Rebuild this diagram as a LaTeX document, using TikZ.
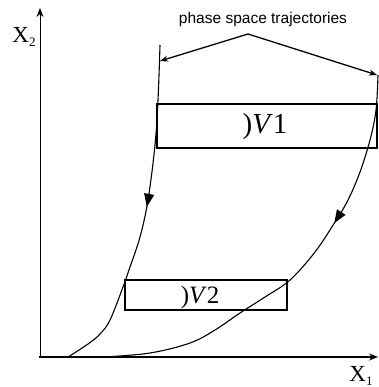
\documentclass[tikz,border=0pt]{standalone}
\usepackage{fontspec}
\setmainfont{Liberation Serif}
\newfontfamily\arial{Liberation Sans}
\usetikzlibrary{arrows.meta,decorations.markings}
\begin{document}
\begin{tikzpicture}[x=1pt,y=-1pt,
  axis/.style={-{Stealth[length=9pt,width=7pt]}},
  box/.style={draw,line width=1.3pt,inner sep=0pt,anchor=center},
  traj/.style={line width=1.1pt},
  pointer/.style={line width=1.3pt,-{Stealth[length=8pt,width=6pt]}},
  midarrow/.style={postaction={decorate,decoration={markings,
     mark=at position #1 with {\arrow{Triangle[length=13pt,width=10pt]}}}}}
]
\useasboundingbox (0,0) rectangle (378,387);
% axes
\coordinate (ytop) at (40,8);
\coordinate (xend) at (378,357);
\draw[axis,line width=0.9pt] (40,358) -- (ytop);
\draw[axis,line width=2pt] (39,357) -- (xend);
\node (x2) at (24,37) {\fontsize{23}{23}\selectfont X\raisebox{-0.35ex}{\fontsize{13}{13}\selectfont 2}};
\node (x1) at (361,376) {\fontsize{23}{23}\selectfont X\raisebox{-0.35ex}{\fontsize{13}{13}\selectfont 1}};
% boxes
\node[box,minimum width=220pt,minimum height=44pt] (v1) at (267,126) {};
\node (v1l) at (265,127) {\fontsize{29}{29}\selectfont )\textit{V}1};
\node[box,minimum width=162pt,minimum height=30pt] (v2) at (206,295) {};
\node (v2l) at (200,297) {\fontsize{25}{25}\selectfont )\textit{V}2};
% trajectories
\draw[traj,midarrow=0.48] plot[smooth,tension=0.6] coordinates
  {(160,45) (158,100) (155,145) (148,200) (140,237) (130,267) (123,287) (110,320) (100,334) (88,344) (68,357)};
\draw[traj,midarrow=0.36] plot[smooth,tension=0.6] coordinates
  {(378,75) (376,110) (370,140) (360,172) (348,200) (335,222) (315,252) (290,280) (265,297) (240,313) (215,330) (190,343) (150,353) (104,357)};
% label
\node (lbl) at (263,19) {\arial\fontsize{15.5}{15.5}\selectfont phase space trajectories};
\coordinate (apex) at (248,34);
\draw[pointer] (apex) -- (160,61);
\draw[pointer] (apex) -- (377,75);
\end{tikzpicture}
\end{document}
